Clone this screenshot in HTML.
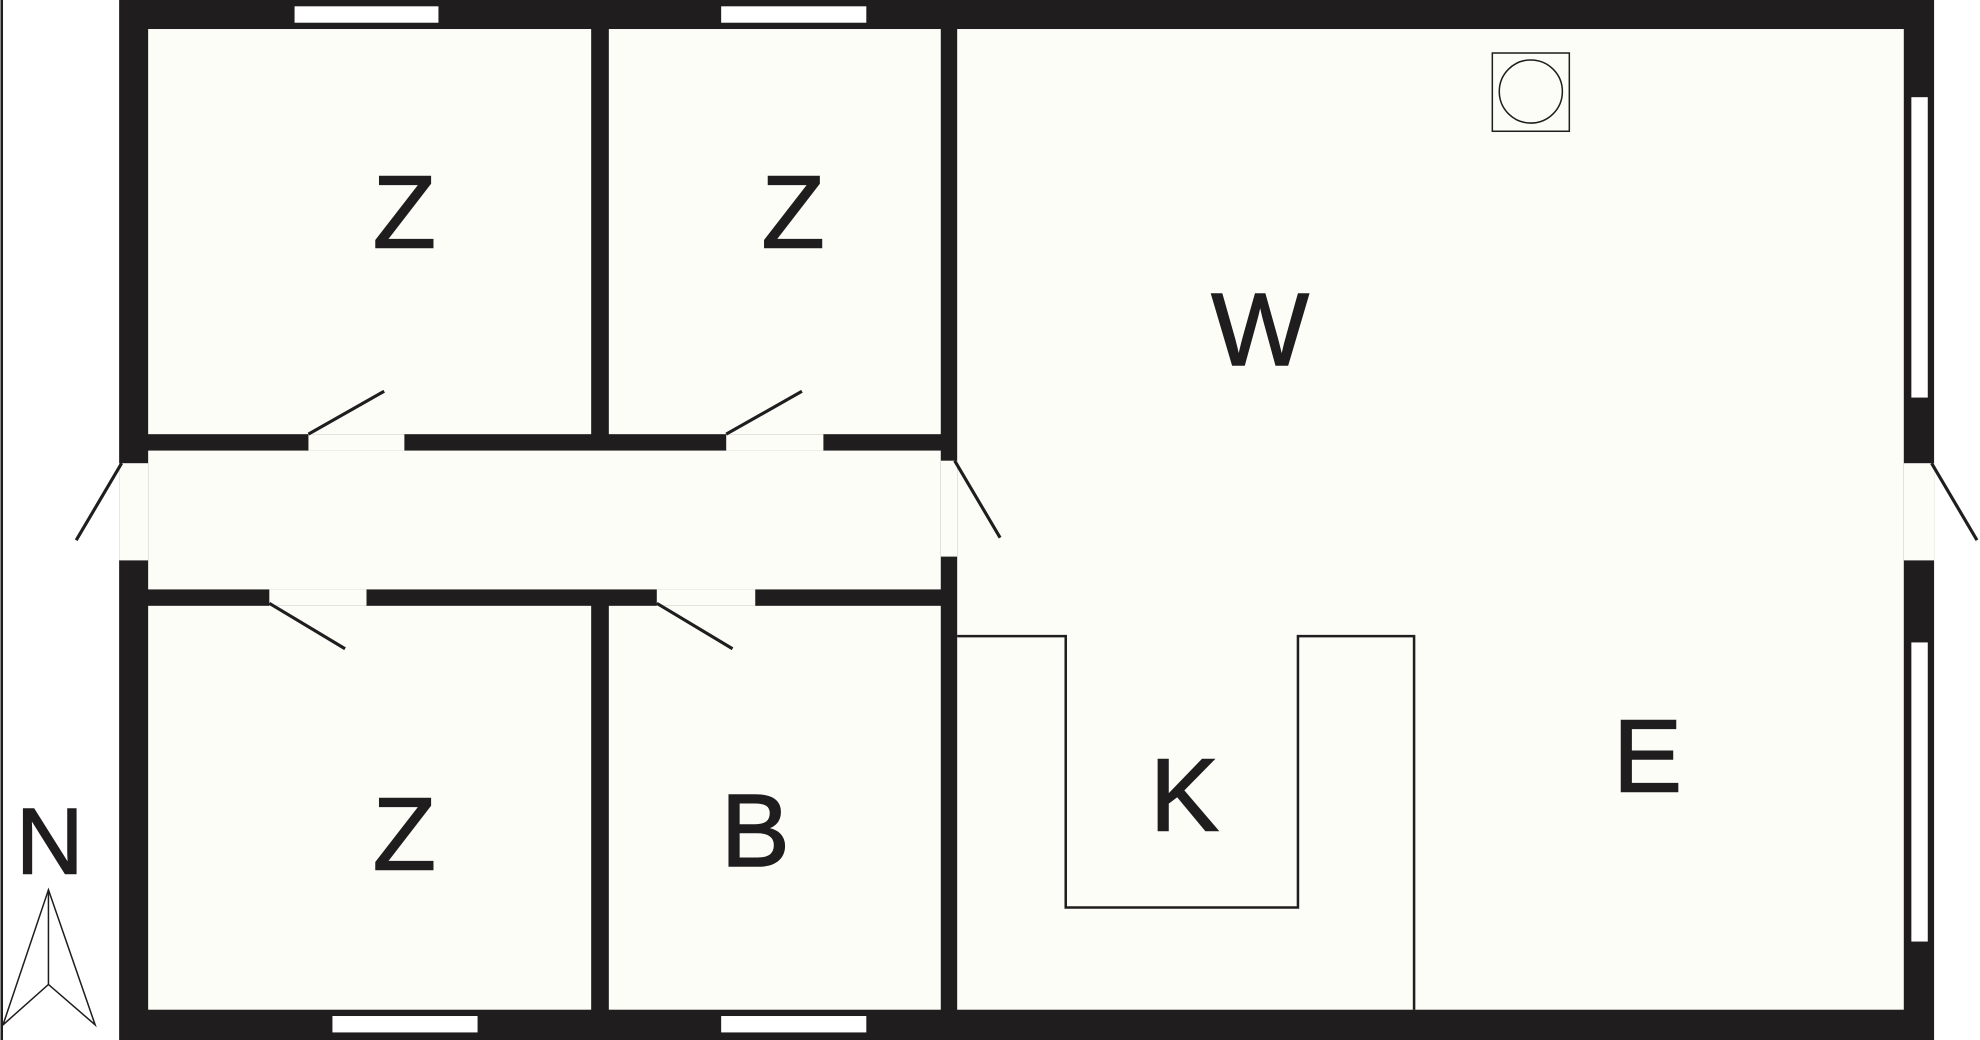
<!DOCTYPE html>
<html><head><meta charset="utf-8"><style>
html,body{margin:0;padding:0;background:#fff;width:1980px;height:1040px;overflow:hidden}
svg{display:block}
text{font-family:"Liberation Sans",sans-serif;fill:#1f1d1e;stroke:#1f1d1e;stroke-width:1.2;text-anchor:middle}
</style></head><body>
<svg width="1980" height="1040" viewBox="0 0 1568 824" xmlns="http://www.w3.org/2000/svg">
<rect x="0" y="0" width="1568" height="824" fill="#fff"/>
<line x1="1" y1="0" x2="1" y2="824" stroke="#1f1d1e" stroke-width="2"/>
<rect x="94" y="0" width="1438" height="824" fill="#1f1d1e"/>
<g fill="#fdfdf8">
<rect x="117" y="23" width="351" height="321"/>
<rect x="482" y="23" width="263" height="321"/>
<rect x="758" y="23" width="750" height="777"/>
<rect x="117" y="357" width="628" height="110"/>
<rect x="117" y="480" width="351" height="320"/>
<rect x="482" y="480" width="263" height="320"/>
<rect x="244" y="344" width="76" height="13"/>
<rect x="575" y="344" width="77" height="13"/>
<rect x="213" y="467" width="77" height="13"/>
<rect x="520" y="467" width="78" height="13"/>
<rect x="94" y="367" width="23" height="77"/>
<rect x="745" y="365" width="13" height="76"/>
<rect x="1508" y="367" width="24" height="77"/>
</g>
<g fill="#fff">
<rect x="233" y="5" width="114" height="13"/>
<rect x="571" y="5" width="115" height="13"/>
<rect x="263" y="805" width="115" height="13"/>
<rect x="571" y="805" width="115" height="13"/>
<rect x="1514" y="77" width="13" height="238"/>
<rect x="1514" y="509" width="13" height="237"/>
</g>
<g stroke="#1f1d1e" stroke-width="2.5" fill="none">
<line x1="244" y1="344" x2="304" y2="310"/>
<line x1="575" y1="344" x2="635" y2="310"/>
<line x1="213" y1="478" x2="273" y2="514"/>
<line x1="520" y1="478" x2="580" y2="514"/>
<line x1="96" y1="367" x2="60" y2="428"/>
<line x1="756" y1="365" x2="792" y2="426"/>
<line x1="1530" y1="367" x2="1566" y2="428"/>
</g>
<polyline points="758,504 844,504 844,719 1028,719 1028,504 1120,504 1120,800" stroke="#1f1d1e" stroke-width="2" fill="none"/>
<rect x="1182" y="42" width="61" height="62" stroke="#1f1d1e" stroke-width="1.2" fill="none"/>
<circle cx="1212.5" cy="72.5" r="25" stroke="#1f1d1e" stroke-width="1.2" fill="none"/>
<g font-size="82">
<text x="320" y="196">Z</text>
<text x="628" y="196">Z</text>
<text x="320" y="689">Z</text>
<text x="998" y="289">W</text>
<text x="938" y="658">K</text>
<text x="598" y="686">B</text>
<text x="1305" y="627">E</text>
<text x="39" y="692" font-size="74">N</text>
</g>
<g stroke="#1f1d1e" stroke-width="1.2" fill="none">
<polygon points="38,705 2,812 38,780 75,812"/>
<line x1="38" y1="705" x2="38" y2="780"/>
</g>
</svg>
</body></html>
